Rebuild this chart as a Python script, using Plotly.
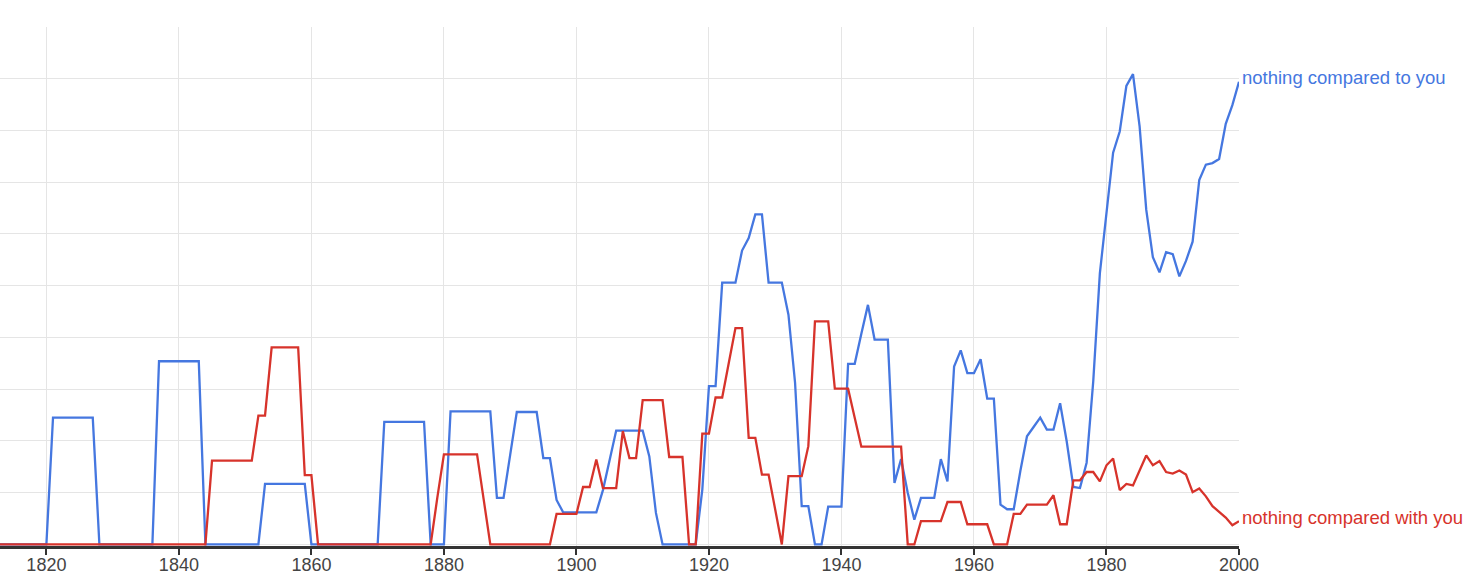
import plotly.graph_objects as go

years = list(range(1813, 2001))

label_to = "nothing compared to you"
label_with = "nothing compared with you"

values_to = [
    # 1813-1820
    0, 0, 0, 0, 0, 0, 0, 0,
    # 1821-1827
    2.45, 2.45, 2.45, 2.45, 2.45, 2.45, 2.45,
    # 1828-1836
    0, 0, 0, 0, 0, 0, 0, 0, 0,
    # 1837-1843
    3.54, 3.54, 3.54, 3.54, 3.54, 3.54, 3.54,
    # 1844-1852
    0, 0, 0, 0, 0, 0, 0, 0, 0,
    # 1853-1859
    1.17, 1.17, 1.17, 1.17, 1.17, 1.17, 1.17,
    # 1860-1870
    0, 0, 0, 0, 0, 0, 0, 0, 0, 0, 0,
    # 1871-1877
    2.37, 2.37, 2.37, 2.37, 2.37, 2.37, 2.37,
    # 1878-1880
    0, 0, 0,
    # 1881-1887
    2.57, 2.57, 2.57, 2.57, 2.57, 2.57, 2.57,
    # 1888-1890
    0.90, 0.90, 1.73,
    # 1891-1894
    2.56, 2.56, 2.56, 2.56,
    # 1895-1897
    1.67, 1.67, 0.86,
    # 1898-1903
    0.62, 0.62, 0.62, 0.62, 0.62, 0.62,
    # 1904-1905
    1.05, 1.60,
    # 1906-1910
    2.20, 2.20, 2.20, 2.20, 2.20,
    # 1911-1912
    1.70, 0.61,
    # 1913-1918
    0, 0, 0, 0, 0, 0,
    # 1919-1928
    1.06, 3.06, 3.06, 5.06, 5.06, 5.06, 5.68, 5.92, 6.38, 6.38,
    # 1929-1938
    5.06, 5.06, 5.06, 4.44, 3.12, 0.74, 0.74, 0, 0, 0.73,
    # 1939-1948
    0.73, 0.73, 3.49, 3.49, 4.07, 4.63, 3.96, 3.96, 3.96, 1.19,
    # 1949-1958
    1.65, 1.00, 0.48, 0.90, 0.90, 0.90, 1.65, 1.22, 3.44, 3.75,
    # 1959-1968
    3.31, 3.31, 3.58, 2.82, 2.82, 0.77, 0.68, 0.68, 1.42, 2.09,
    # 1969-1978
    2.27, 2.45, 2.22, 2.22, 2.73, 1.99, 1.11, 1.09, 1.58, 3.15,
    # 1979-1988
    5.24, 6.40, 7.57, 7.98, 8.86, 9.09, 8.08, 6.47, 5.55, 5.26,
    # 1989-1998
    5.65, 5.61, 5.18, 5.48, 5.85, 7.04, 7.34, 7.37, 7.45, 8.13,
    # 1999-2000
    8.49, 8.94,
]

values_with = [
    # 1813-1844
    0, 0, 0, 0, 0, 0, 0, 0, 0, 0, 0, 0, 0, 0, 0, 0,
    0, 0, 0, 0, 0, 0, 0, 0, 0, 0, 0, 0, 0, 0, 0, 0,
    # 1845-1851
    1.62, 1.62, 1.62, 1.62, 1.62, 1.62, 1.62,
    # 1852-1853
    2.49, 2.49,
    # 1854-1858
    3.81, 3.81, 3.81, 3.81, 3.81,
    # 1859-1860
    1.34, 1.34,
    # 1861-1878
    0, 0, 0, 0, 0, 0, 0, 0, 0, 0, 0, 0, 0, 0, 0, 0, 0, 0,
    # 1879
    0.90,
    # 1880-1885
    1.74, 1.74, 1.74, 1.74, 1.74, 1.74,
    # 1886
    0.87,
    # 1887-1896
    0, 0, 0, 0, 0, 0, 0, 0, 0, 0,
    # 1897-1900
    0.59, 0.59, 0.59, 0.59,
    # 1901-1909
    1.11, 1.11, 1.64, 1.09, 1.09, 1.09, 2.19, 1.67, 1.67,
    # 1910-1913
    2.79, 2.79, 2.79, 2.79,
    # 1914-1916
    1.69, 1.69, 1.69,
    # 1917-1918
    0, 0,
    # 1919-1928
    2.14, 2.14, 2.84, 2.84, 3.51, 4.18, 4.18, 2.06, 2.06, 1.35,
    # 1929-1938
    1.35, 0.68, 0, 1.32, 1.32, 1.32, 1.90, 4.31, 4.31, 4.31,
    # 1939-1942
    3.01, 3.01, 3.01, 2.45,
    # 1943-1949
    1.89, 1.89, 1.89, 1.89, 1.89, 1.89, 1.89,
    # 1950-1951
    0, 0,
    # 1952-1955
    0.45, 0.45, 0.45, 0.45,
    # 1956-1958
    0.82, 0.82, 0.82,
    # 1959-1962
    0.39, 0.39, 0.39, 0.39,
    # 1963-1965
    0, 0, 0,
    # 1966-1967
    0.59, 0.59,
    # 1968-1971
    0.77, 0.77, 0.77, 0.77,
    # 1972-1981
    0.95, 0.39, 0.39, 1.24, 1.24, 1.40, 1.40, 1.22, 1.53, 1.66,
    # 1982-1991
    1.05, 1.17, 1.14, 1.42, 1.72, 1.53, 1.61, 1.40, 1.37, 1.43,
    # 1992-2000
    1.35, 1.01, 1.08, 0.93, 0.74, 0.63, 0.52, 0.37, 0.45,
]

tick_years = [1820, 1840, 1860, 1880, 1900, 1920, 1940, 1960, 1980, 2000]
tick_labels = [str(y) for y in tick_years]

assert len(values_to) == len(years), len(values_to)
assert len(values_with) == len(years), len(values_with)

BLUE = "#4577e0"
RED = "#d7332b"
FONT = "Liberation Sans, Arial, sans-serif"

fig = go.Figure()
fig.add_trace(go.Scatter(x=years, y=values_to, mode="lines", name=label_to,
                         line=dict(color=BLUE, width=2.3), hoverinfo="x+y"))
fig.add_trace(go.Scatter(x=years, y=values_with, mode="lines", name=label_with,
                         line=dict(color=RED, width=2.3), hoverinfo="x+y"))

fig.add_annotation(x=years[-1], y=values_to[-1], text=label_to, xref="x", yref="y",
                   xanchor="left", yanchor="middle", showarrow=False, xshift=1, yshift=4,
                   font=dict(color=BLUE, size=18.5, family=FONT))
fig.add_annotation(x=years[-1], y=values_with[-1], text=label_with, xref="x", yref="y",
                   xanchor="left", yanchor="middle", showarrow=False, xshift=1, yshift=4,
                   font=dict(color=RED, size=18.5, family=FONT))

fig.update_layout(
    width=1484, height=584,
    margin=dict(l=0, r=245, t=27, b=38),
    paper_bgcolor="white", plot_bgcolor="white",
    showlegend=False,
    font=dict(family=FONT, size=18, color="#444444"),
    xaxis=dict(
        range=[1813, 2000],
        tickmode="array", tickvals=tick_years, ticktext=tick_labels,
        showgrid=True, gridcolor="#e5e5e5", gridwidth=1,
        showline=True, linecolor="#333333", linewidth=3,
        ticks="outside", ticklen=6, tickwidth=2, tickcolor="#333333",
        ticklabelstandoff=-6,
        tickfont=dict(size=18, color="#444444", family=FONT),
        zeroline=False, layer="below traces",
    ),
    yaxis=dict(
        range=[-0.03, 10],
        tickmode="linear", tick0=0, dtick=1,
        showgrid=True, gridcolor="#e5e5e5", gridwidth=1,
        showticklabels=False, showline=False, zeroline=False, ticks="",
    ),
)

fig.write_html(
    "out.html",
    config={"displayModeBar": False},
    post_script="document.body.style.margin='0';document.body.style.padding='0';document.body.style.overflow='hidden';",
)
